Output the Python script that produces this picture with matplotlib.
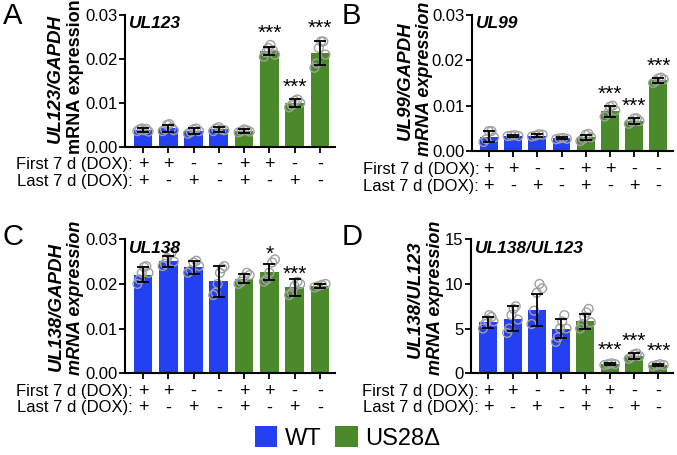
import numpy as np
import matplotlib
matplotlib.use("Agg")
import matplotlib.pyplot as plt
from matplotlib.patches import Patch

plt.rcParams["font.family"] = ["Liberation Sans", "DejaVu Sans"]

BLUE = "#2341f2"
GREEN = "#4b8a2a"
colors = [BLUE] * 4 + [GREEN] * 4

first_dox = ["+", "+", "-", "-", "+", "+", "-", "-"]
last_dox = ["+", "-", "+", "-", "+", "-", "+", "-"]

# panel A: UL123/GAPDH
a_mean = [0.0038, 0.0042, 0.0036, 0.0040, 0.0036, 0.0218, 0.0100, 0.0214]
a_err = [0.0004, 0.0008, 0.0006, 0.0005, 0.0004, 0.0010, 0.0008, 0.0028]
a_pts = [
    [0.0036, 0.0040, 0.0042, 0.0038, 0.0041, 0.0035],
    [0.0036, 0.0040, 0.0050, 0.0052, 0.0044, 0.0038],
    [0.0030, 0.0034, 0.0040, 0.0042, 0.0036],
    [0.0036, 0.0042, 0.0045, 0.0040, 0.0038],
    [0.0033, 0.0036, 0.0040, 0.0038, 0.0035],
    [0.0205, 0.0215, 0.0225, 0.0232, 0.0220, 0.0210],
    [0.0090, 0.0095, 0.0105, 0.0108, 0.0100],
    [0.0180, 0.0190, 0.0225, 0.0240, 0.0240, 0.0210],
]
a_sig = ["", "", "", "", "", "***", "***", "***"]

# panel B: UL99/GAPDH
b_mean = [0.0032, 0.0034, 0.0034, 0.0028, 0.0030, 0.0088, 0.0066, 0.0156]
b_err = [0.0012, 0.0002, 0.0003, 0.0002, 0.0006, 0.0012, 0.0006, 0.0005]
b_pts = [
    [0.0020, 0.0026, 0.0044, 0.0044, 0.0030],
    [0.0033, 0.0034, 0.0035, 0.0033],
    [0.0032, 0.0034, 0.0037, 0.0036],
    [0.0026, 0.0028, 0.0029, 0.0027],
    [0.0022, 0.0027, 0.0036, 0.0038, 0.0030],
    [0.0076, 0.0082, 0.0098, 0.0100, 0.0090],
    [0.0060, 0.0065, 0.0072, 0.0072, 0.0066],
    [0.0150, 0.0154, 0.0160, 0.0162, 0.0158],
]
b_sig = ["", "", "", "", "", "***", "***", "***"]

# panel C: UL138/GAPDH
c_mean = [0.0221, 0.0251, 0.0237, 0.0206, 0.0212, 0.0226, 0.0192, 0.0195]
c_err = [0.0016, 0.0012, 0.0015, 0.0035, 0.0010, 0.0018, 0.0018, 0.0004]
c_pts = [
    [0.0200, 0.0210, 0.0225, 0.0238, 0.0240, 0.0225],
    [0.0240, 0.0245, 0.0258, 0.0267, 0.0270, 0.0250],
    [0.0225, 0.0230, 0.0248, 0.0252, 0.0240],
    [0.0175, 0.0180, 0.0200, 0.0225, 0.0235, 0.0240],
    [0.0200, 0.0205, 0.0215, 0.0225, 0.0220],
    [0.0205, 0.0210, 0.0225, 0.0248, 0.0255],
    [0.0175, 0.0180, 0.0195, 0.0205, 0.0200],
    [0.0192, 0.0195, 0.0198, 0.0200],
]
c_sig = ["", "", "", "", "", "*", "***", ""]

# panel D: UL138/UL123
d_mean = [5.7, 6.1, 7.1, 5.0, 5.8, 1.0, 1.9, 0.9]
d_err = [0.6, 1.4, 1.8, 1.1, 0.8, 0.1, 0.3, 0.15]
d_pts = [
    [5.0, 5.5, 6.0, 6.5, 6.3, 5.8],
    [4.5, 5.0, 6.5, 7.2, 7.5, 6.0],
    [5.5, 7.0, 9.0, 10.0, 9.5],
    [3.5, 4.0, 5.0, 5.8, 6.5, 5.0],
    [5.0, 5.5, 6.3, 6.8, 7.2, 5.7],
    [0.9, 1.0, 1.1, 1.0],
    [1.6, 1.8, 2.1, 2.2, 1.9],
    [0.8, 0.9, 1.0, 0.9],
]
d_sig = ["", "", "", "", "", "***", "***", "***"]


def draw_panel(ax, mean, err, pts, sig, ymax, yticks, ytick_fmt, title,
               ylab1, ylab2, ylab2_italic, star_pad, ylab_x, ylab_y):
    x = np.arange(len(mean))
    ax.bar(x, mean, width=0.74, color=colors, zorder=1)
    for i, p in enumerate(pts):
        xs = x[i] + np.linspace(-0.22, 0.22, len(p))
        ax.scatter(xs, p, s=40, facecolors="none", edgecolors="#a0a0a0",
                   linewidths=1.0, zorder=2)
    ax.errorbar(x, mean, yerr=err, fmt="none", ecolor="black", elinewidth=1.3,
                capsize=4.5, capthick=1.3, zorder=3)
    for i, s in enumerate(sig):
        if s:
            top = max(mean[i] + err[i], max(pts[i]))
            ax.text(x[i], top + star_pad, s, ha="center", va="bottom",
                    fontsize=15, zorder=4)

    ax.set_ylim(0, ymax)
    ax.set_xlim(-0.7, 7.6)
    ax.set_yticks(yticks)
    ax.set_yticklabels([ytick_fmt.format(v) for v in yticks], fontsize=12)
    ax.set_xticks(x)
    ax.set_xticklabels([])
    ax.tick_params(axis="both", direction="out", length=4, width=1.3, pad=1.5)
    for side in ["top", "right"]:
        ax.spines[side].set_visible(False)
    for side in ["left", "bottom"]:
        ax.spines[side].set_linewidth(1.5)

    ax.text(0.02, 0.99, title, transform=ax.transAxes, ha="left", va="top",
            fontsize=12.5, fontweight="bold", fontstyle="italic")

    trans = ax.get_xaxis_transform()
    for i in range(len(x)):
        ax.text(x[i], -0.135, first_dox[i], transform=trans, ha="center",
                va="center", fontsize=13, clip_on=False)
        ax.text(x[i], -0.26, last_dox[i], transform=trans, ha="center",
                va="center", fontsize=13, clip_on=False)
    ax.text(-0.4, -0.135, "First 7 d (DOX):", transform=trans, ha="right",
            va="center", fontsize=12, clip_on=False)
    ax.text(-0.4, -0.26, "Last 7 d (DOX):", transform=trans, ha="right",
            va="center", fontsize=12, clip_on=False)

    ax.text(ylab_x[0], ylab_y[0], ylab1, transform=ax.transAxes, rotation=90,
            ha="center", va="center", fontsize=13.5, fontweight="bold",
            fontstyle="italic")
    ax.text(ylab_x[1], ylab_y[1], ylab2, transform=ax.transAxes, rotation=90,
            ha="center", va="center", fontsize=13, fontweight="bold",
            fontstyle="italic" if ylab2_italic else "normal")


fig = plt.figure(figsize=(6.77, 4.55), dpi=100)

ax_a = fig.add_axes([0.185, 0.677, 0.310, 0.290])
ax_b = fig.add_axes([0.697, 0.668, 0.297, 0.299])
ax_c = fig.add_axes([0.185, 0.180, 0.310, 0.294])
ax_d = fig.add_axes([0.696, 0.180, 0.298, 0.294])

gapdh_ticks = [0.0, 0.01, 0.02, 0.03]
draw_panel(ax_a, a_mean, a_err, a_pts, a_sig, 0.03, gapdh_ticks, "{:.2f}",
           "UL123", "UL123/GAPDH", "mRNA expression", False, 0.0005,
           (-0.335, -0.235), (0.52, 0.53))
draw_panel(ax_b, b_mean, b_err, b_pts, b_sig, 0.03, gapdh_ticks, "{:.2f}",
           "UL99", "UL99/GAPDH", "mRNA expression", True, 0.0005,
           (-0.33, -0.235), (0.52, 0.53))
draw_panel(ax_c, c_mean, c_err, c_pts, c_sig, 0.03, gapdh_ticks, "{:.2f}",
           "UL138", "UL138/GAPDH", "mRNA expression", True, -0.0009,
           (-0.33, -0.235), (0.5, 0.56))
draw_panel(ax_d, d_mean, d_err, d_pts, d_sig, 15, [0, 5, 10, 15], "{:g}",
           "UL138/UL123", "UL138/UL123", "mRNA expression", True, 0.35,
           (-0.275, -0.175), (0.55, 0.56))

for lab, (px, py) in zip("ABCD", [(0.004, 0.995), (0.505, 0.995),
                                  (0.004, 0.51), (0.505, 0.51)]):
    fig.text(px, py, lab, fontsize=21, ha="left", va="top")

handles = [Patch(facecolor=BLUE, label="WT"),
           Patch(facecolor=GREEN, label="US28\u0394")]
fig.legend(handles=handles, loc="lower center", bbox_to_anchor=(0.513, -0.035),
           ncol=2, frameon=False, fontsize=17, handlelength=0.95,
           handleheight=0.95, handletextpad=0.3, columnspacing=0.6)

fig.savefig("out.png", dpi=100)
